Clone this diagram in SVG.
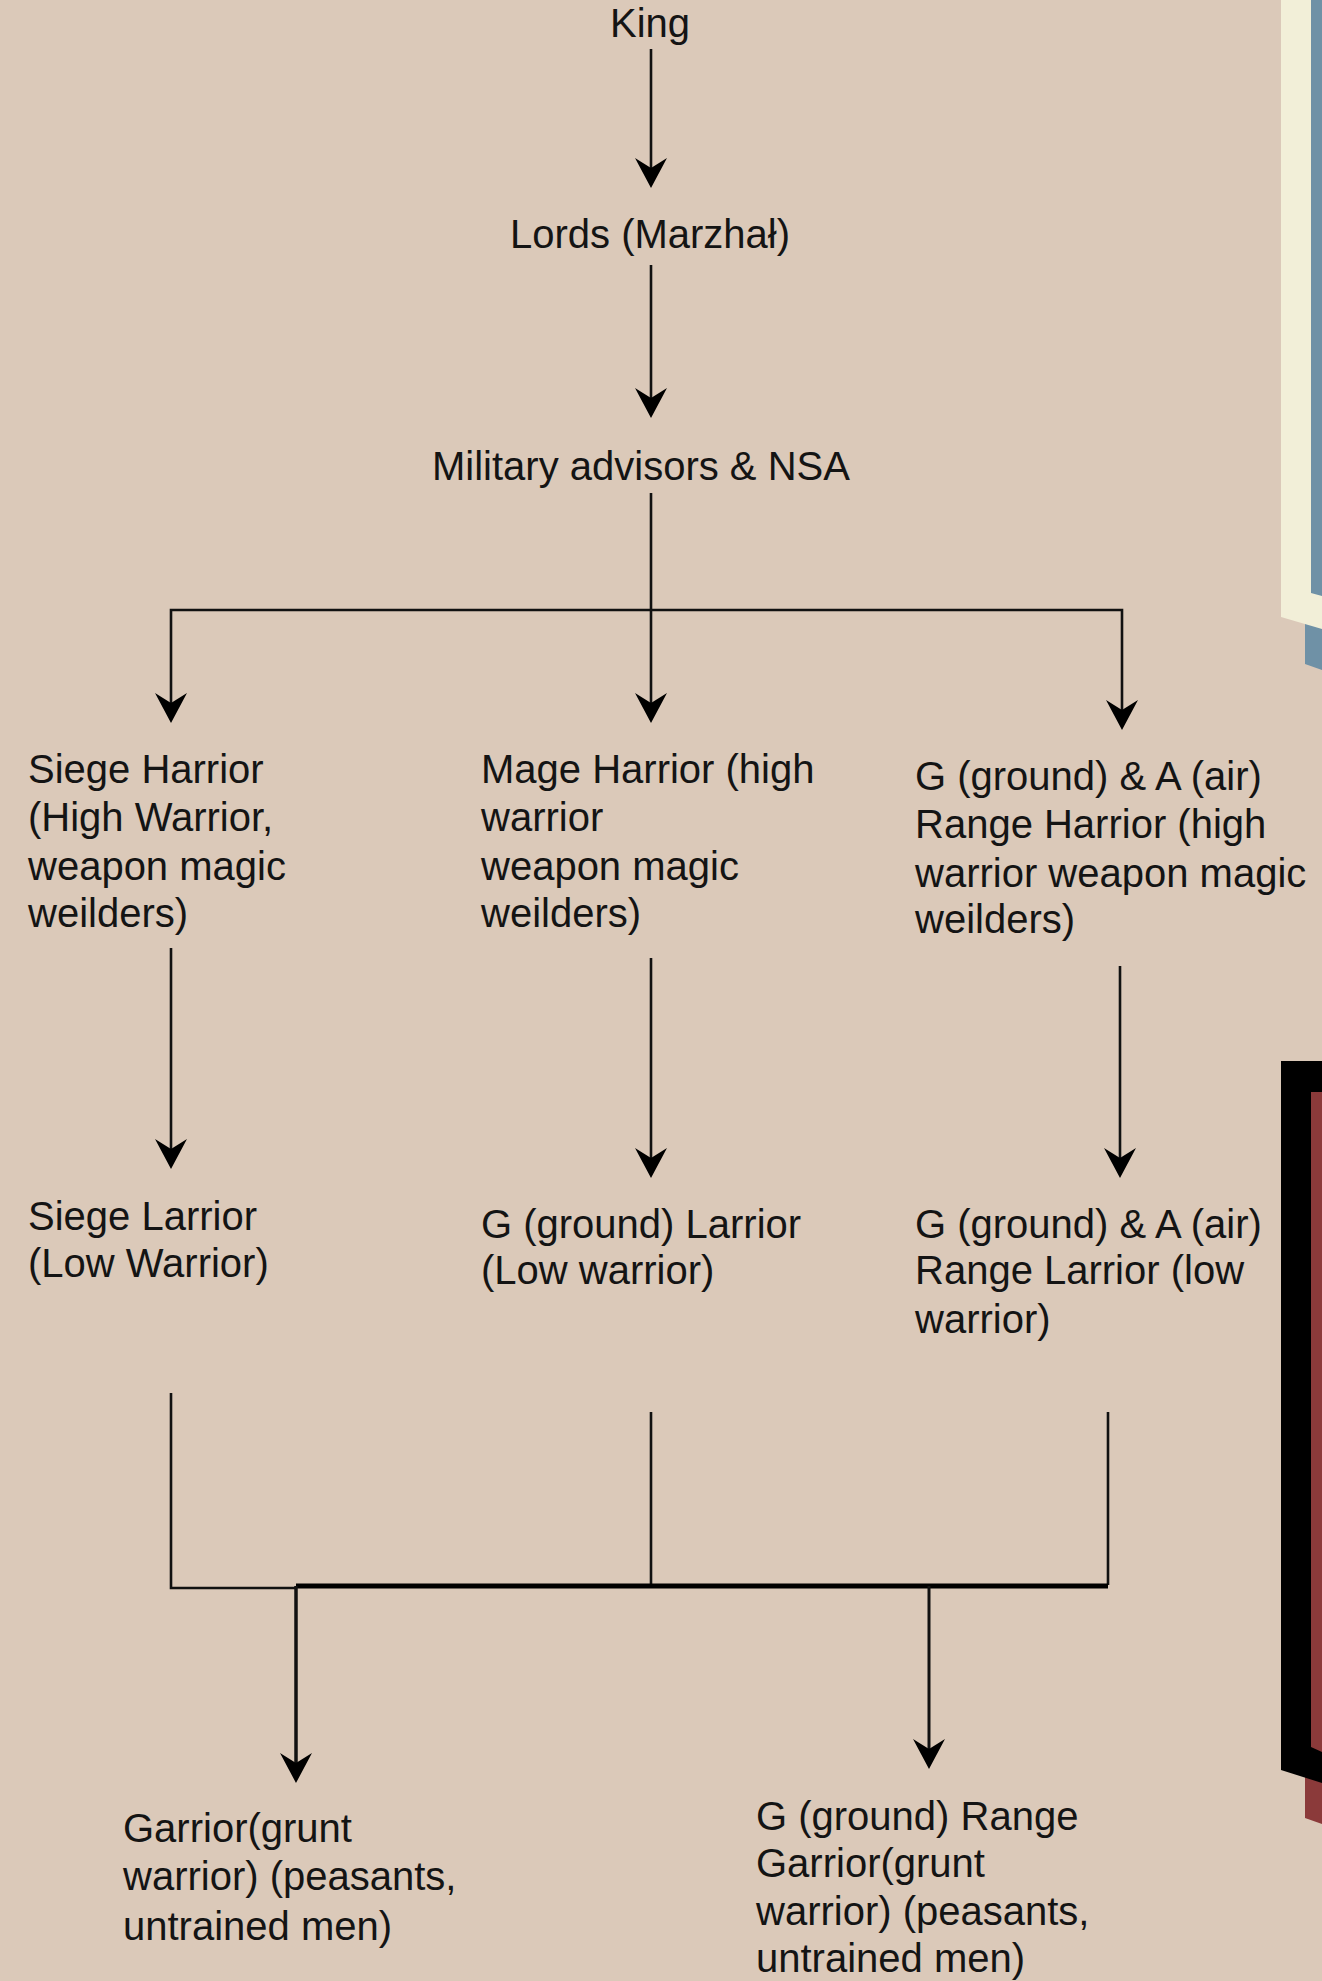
<svg xmlns="http://www.w3.org/2000/svg" width="1322" height="1981" viewBox="0 0 1322 1981">
<style>
.t{font-family:"Liberation Sans",Arial,sans-serif;font-size:40px;fill:#141414}
.c{fill:none;stroke:#111;stroke-width:2.6}
.thick{fill:none;stroke:#000;stroke-width:5}
</style>
<defs>
<marker id="ah" viewBox="0 0 30 32" markerWidth="30" markerHeight="32" refX="10" refY="16" orient="auto" markerUnits="userSpaceOnUse">
<path d="M0,0 L30,16 L0,32 L10,16 Z" fill="#000"/>
</marker>
</defs>
<rect width="1322" height="1981" fill="#dbc9b9"/>
<g id="decor">
<polygon points="1305,615 1322,620 1322,670 1305,664" fill="#6f91a6"/>
<polygon points="1281,0 1322,0 1322,629 1281,617" fill="#f2efd8"/>
<polygon points="1311,0 1322,0 1322,596 1311,593" fill="#6f91a6"/>
<polygon points="1305,1765 1322,1770 1322,1824 1305,1818" fill="#8b3a3a"/>
<polygon points="1281,1061 1322,1061 1322,1783 1281,1770" fill="#000"/>
<polygon points="1311,1092 1322,1092 1322,1752 1311,1747" fill="#8b3a3a"/>
</g>
<g id="connectors">
<path class="c" d="M651 49 V168" marker-end="url(#ah)"/>
<path class="c" d="M651 265 V398" marker-end="url(#ah)"/>
<path class="c" d="M651 493 V703" marker-end="url(#ah)"/>
<path class="c" d="M651 610 H171 V703" marker-end="url(#ah)"/>
<path class="c" d="M651 610 H1122 V710" marker-end="url(#ah)"/>
<path class="c" d="M171 948 V1149" marker-end="url(#ah)"/>
<path class="c" d="M651 958 V1158" marker-end="url(#ah)"/>
<path class="c" d="M1120 966 V1158" marker-end="url(#ah)"/>
<path class="c" d="M171 1393 V1588 H296"/>
<path class="c" d="M651 1412 V1585"/>
<path class="c" d="M1108 1412 V1585"/>
<path class="thick" d="M296 1586 H1108"/>
<path class="c" style="stroke-width:3.5" d="M296 1586 V1763" marker-end="url(#ah)"/>
<path class="c" style="stroke-width:3" d="M929 1586 V1749" marker-end="url(#ah)"/>
</g>
<g id="king"><text class="t" x="650" y="37" text-anchor="middle">King</text></g>
<g id="lords"><text class="t" x="650" y="248" text-anchor="middle">Lords (Marzhał)</text></g>
<g id="military"><text class="t" x="432" y="480">Military advisors &amp; NSA</text></g>
<g id="siege-harrior"><text class="t" x="28" y="783"><tspan x="28">Siege Harrior</tspan><tspan x="28" dy="48">(High Warrior,</tspan><tspan x="28" dy="49">weapon magic</tspan><tspan x="28" dy="47">weilders)</tspan></text></g>
<g id="mage-harrior"><text class="t" x="481" y="783"><tspan x="481">Mage Harrior (high</tspan><tspan x="481" dy="48">warrior</tspan><tspan x="481" dy="49">weapon magic</tspan><tspan x="481" dy="47">weilders)</tspan></text></g>
<g id="range-harrior"><text class="t" x="915" y="790"><tspan x="915">G (ground) &amp; A (air)</tspan><tspan x="915" dy="48">Range Harrior (high</tspan><tspan x="915" dy="49">warrior weapon magic</tspan><tspan x="915" dy="46">weilders)</tspan></text></g>
<g id="siege-larrior"><text class="t" x="28" y="1230"><tspan x="28">Siege Larrior</tspan><tspan x="28" dy="47">(Low Warrior)</tspan></text></g>
<g id="ground-larrior"><text class="t" x="481" y="1238"><tspan x="481">G (ground) Larrior</tspan><tspan x="481" dy="46">(Low warrior)</tspan></text></g>
<g id="range-larrior"><text class="t" x="915" y="1238"><tspan x="915">G (ground) &amp; A (air)</tspan><tspan x="915" dy="46">Range Larrior (low</tspan><tspan x="915" dy="49">warrior)</tspan></text></g>
<g id="garrior"><text class="t" x="123" y="1842"><tspan x="123">Garrior(grunt</tspan><tspan x="123" dy="48">warrior) (peasants,</tspan><tspan x="123" dy="50">untrained men)</tspan></text></g>
<g id="range-garrior"><text class="t" x="756" y="1830"><tspan x="756">G (ground) Range</tspan><tspan x="756" dy="47">Garrior(grunt</tspan><tspan x="756" dy="48">warrior) (peasants,</tspan><tspan x="756" dy="47">untrained men)</tspan></text></g>
</svg>
